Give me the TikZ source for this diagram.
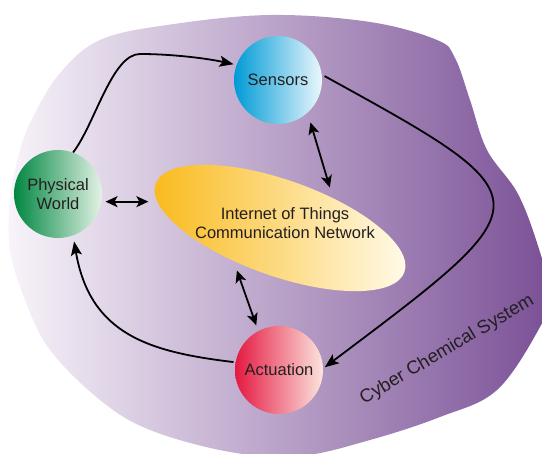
\documentclass[tikz,border=0pt]{standalone}
\usepackage{fontspec}
\setmainfont{Liberation Sans}
\usetikzlibrary{arrows.meta,shapes.geometric}
\definecolor{ink}{RGB}{35,31,32}
\definecolor{blobleft}{RGB}{248,244,250}
\definecolor{blobright}{RGB}{122,80,150}
\tikzset{
	base node/.style={circle, minimum size=88pt, inner sep=0pt, text=ink, align=center, font=\fontsize{16.5}{19.5}\selectfont},
	sensor node/.style={base node, left color={rgb,255:red,0;green,155;blue,215}, right color={rgb,255:red,235;green,247;blue,252}},
	world node/.style={base node, left color={rgb,255:red,0;green,135;blue,65}, right color={rgb,255:red,228;green,242;blue,230}},
	act node/.style={base node, left color={rgb,255:red,228;green,25;blue,65}, right color={rgb,255:red,252;green,228;blue,222}},
	net node/.style={ellipse, minimum width=264pt, minimum height=96pt, inner sep=0pt, rotate=-19.5, left color={rgb,255:red,250;green,185;blue,25}, right color={rgb,255:red,255;green,252;blue,238}},
	flow/.style={line width=1.8pt, -{Stealth[length=14pt,width=11pt,inset=3pt]}},
	link/.style={line width=1.8pt, {Stealth[length=12pt,width=11pt,inset=3pt]}-{Stealth[length=12pt,width=11pt,inset=3pt]}},
}

\begin{document}
\begin{tikzpicture}[x=1pt, y=1pt]
	\useasboundingbox (0,0) rectangle (542,454);

	% system boundary
	\shade[left color=blobleft, right color=blobright] plot[smooth cycle, tension=0.6] coordinates {
		(270,439) (370,432) (437,414) (455,396) (470,354) (487,304) (518,260) (539,205)
		(550,159) (540,127) (497,64) (440,37) (370,14) (300,-2) (230,2) (150,24)
		(100,54) (50,104) (25,154) (10,204) (10,254) (20,304) (33,337) (60,381)
		(100,414) (167,429)};

	\node[net node] (net) at (280,226) {};
	\node[text=ink, align=center, font=\fontsize{16.5}{19.5}\selectfont] (netlabel) at (285,231) {Internet of Things\\Communication Network};

	\node[sensor node] (sensors) at (278,374) {Sensors};
	\node[world node] (world) at (58,260) {Physical\\World};
	\node[act node] (actuation) at (279,84) {Actuation};

	\node[rotate=30.6, text=ink, font=\fontsize{18.5}{22}\selectfont] (system) at (447,104) {Cyber Chemical System};

	\draw[flow, shorten >=3pt] (world.70) .. controls (95,330) and (112,400) .. (140,400) .. controls (170,400) and (205,396) .. (sensors.160);
	\draw[flow, shorten <=3pt, shorten >=2pt] (sensors.7) .. controls (550,254) and (547,254) .. (actuation.2);
	\draw[flow, shorten <=2pt, shorten >=6pt] (actuation.170) .. controls (150,102) and (90,119) .. (world.-70);

	\draw[link, shorten <=4pt, shorten >=7pt] (world.-10) -- (world.-10 -| net.west);
	\draw[link, shorten <=10pt, shorten >=11pt] (sensors.-48) -- (net.49);
	\draw[link, shorten <=10pt, shorten >=6pt] (net.235) -- (actuation.118);
\end{tikzpicture}
\end{document}
